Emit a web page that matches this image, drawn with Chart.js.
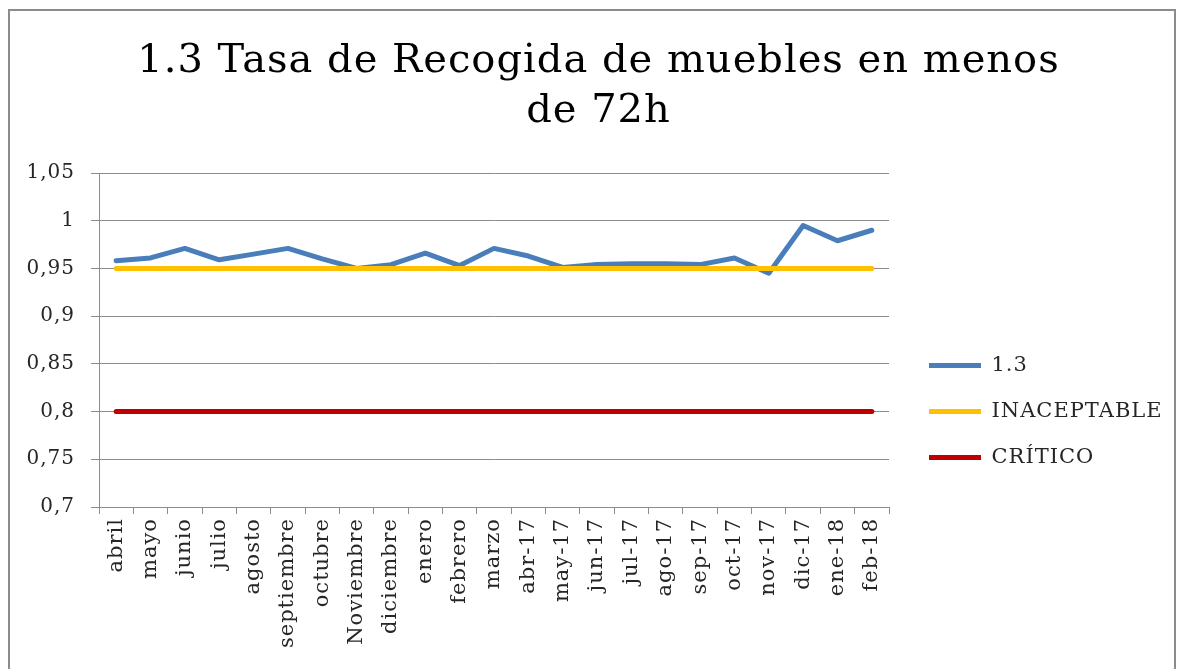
<!DOCTYPE html>
<html>
<head>
<meta charset="utf-8">
<script src="https://cdn.jsdelivr.net/npm/chart.js@4.4.1/dist/chart.umd.min.js"></script>
<style>
  html, body { margin: 0; padding: 0; background: #ffffff; overflow: hidden; }
  #wrap { position: absolute; left: 0; top: 0; width: 1177px; height: 669px; }
</style>
</head>
<body>
<div id="wrap"><canvas id="c" width="1177" height="669"></canvas></div>
<script>
const categories = ['abril','mayo','junio','julio','agosto','septiembre','octubre','Noviembre','diciembre','enero','febrero','marzo','abr-17','may-17','jun-17','jul-17','ago-17','sep-17','oct-17','nov-17','dic-17','ene-18','feb-18'];
const serie13 = [0.958,0.961,0.971,0.959,0.965,0.971,0.960,0.950,0.954,0.966,0.953,0.971,0.963,0.951,0.954,0.955,0.955,0.954,0.961,0.945,0.995,0.979,0.990];
const inaceptable = categories.map(() => 0.95);
const critico = categories.map(() => 0.8);
const titleLines = ['1.3 Tasa de Recogida de muebles en menos', 'de 72h'];
const seriesNames = ['1.3', 'INACEPTABLE', 'CRÍTICO'];
const seriesColors = ['#4A7EBB', '#FFC000', '#C00000'];
const yMin = 0.7, yMax = 1.05, yStep = 0.05;

const FONT = "'DejaVu Serif', serif";
const GRID = '#8c8c8c';
const TXT = '#262626';

const spacingPlugin = {
  id: 'letterSpacing',
  beforeUpdate(chart) {
    chart.ctx.letterSpacing = '1px';
    const lg = chart.legend;
    if (lg && !lg.__fixedFit) {
      const f = lg.fit;
      lg.fit = function () { f.call(this); this.width = 288; };
      lg.__fixedFit = true;
    }
  },
  afterLayout(chart) {
    const lg = chart.legend;
    if (lg) { lg.left += 15; lg.right += 15; lg.top += 77; lg.bottom += 77; }
  },
  beforeDraw(chart) {
    chart.ctx.letterSpacing = '1px';
    const ctx = chart.ctx;
    ctx.save();
    ctx.strokeStyle = '#8c8c8c';
    ctx.lineWidth = 2;
    ctx.strokeRect(9, 10, 1166, 700);
    ctx.restore();
  }
};

new Chart(document.getElementById('c'), {
  type: 'line',
  data: {
    labels: categories,
    datasets: [
      { label: seriesNames[0], data: serie13, borderColor: seriesColors[0], backgroundColor: seriesColors[0], order: 3 },
      { label: seriesNames[1], data: inaceptable, borderColor: seriesColors[1], backgroundColor: seriesColors[1], order: 2 },
      { label: seriesNames[2], data: critico, borderColor: seriesColors[2], backgroundColor: seriesColors[2], order: 1 }
    ]
  },
  options: {
    responsive: false,
    animation: false,
    devicePixelRatio: 1,
    datasets: { line: { borderWidth: 5, pointRadius: 0, tension: 0, borderCapStyle: 'round', borderJoinStyle: 'round', fill: false } },
    layout: { padding: { left: 20, right: 0, top: 0, bottom: 0 } },
    plugins: {
      tooltip: { enabled: false },
      title: {
        display: true,
        text: titleLines,
        color: '#000000',
        font: { family: FONT, size: 40, weight: 'normal', lineHeight: 1.25 },
        padding: { top: 37, bottom: 36 }
      },
      legend: {
        display: true,
        position: 'right',
        labels: {
          font: { family: FONT, size: 21 },
          color: TXT,
          boxWidth: 52,
          boxHeight: 5,
          padding: 25,
          sort: (a, b) => a.datasetIndex - b.datasetIndex,
          generateLabels(chart) {
            return chart.data.datasets.map((ds, i) => ({
              text: ds.label,
              fillStyle: ds.borderColor,
              strokeStyle: ds.borderColor,
              lineWidth: 0,
              hidden: false,
              datasetIndex: i,
              fontColor: TXT
            }));
          }
        }
      }
    },
    scales: {
      x: {
        offset: true,
        grid: { display: true, offset: true, drawOnChartArea: false, drawTicks: true, tickLength: 7, color: GRID },
        border: { display: true, color: GRID, width: 1 },
        ticks: { minRotation: 90, maxRotation: 90, autoSkip: false, padding: 4, color: TXT, font: { family: FONT, size: 21 } },
        afterFit(s) { s.height = 162; }
      },
      y: {
        min: yMin, max: yMax,
        grid: { color: GRID, tickLength: 8, drawTicks: true },
        border: { display: true, color: GRID, width: 1 },
        ticks: {
          stepSize: yStep, padding: 16, color: TXT, font: { family: FONT, size: 20 },
          callback: v => String(Math.round(v * 100) / 100).replace('.', ',')
        },
        afterFit(s) { s.width = 79; }
      }
    }
  },
  plugins: [spacingPlugin]
});
</script>
</body>
</html>
